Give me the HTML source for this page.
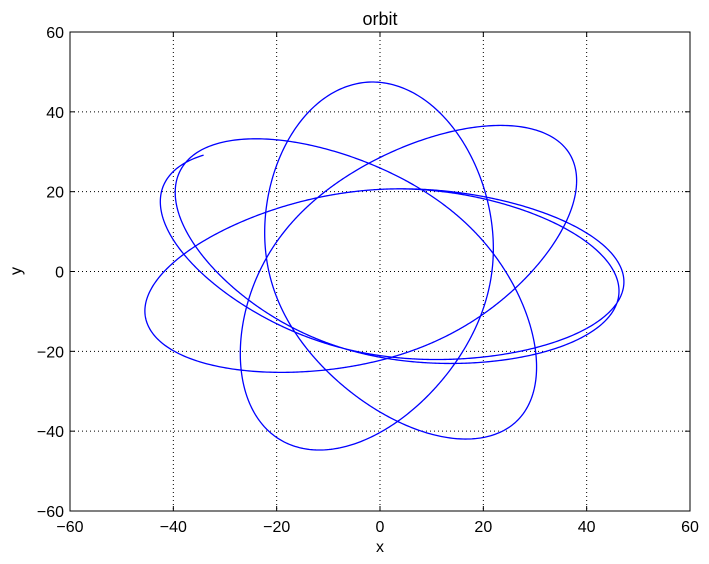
<!DOCTYPE html>
<html><head><meta charset="utf-8"><style>
html,body{margin:0;padding:0;background:#fff;}
svg{display:block;font-family:"Liberation Sans","DejaVu Sans",sans-serif;}
</style></head><body>
<svg id="chart" width="709" height="564" viewBox="0 0 709 564" xmlns="http://www.w3.org/2000/svg">
<rect width="709" height="564" fill="#fff"/>
<text x="380" y="25" text-anchor="middle" font-size="18">orbit</text>
<text x="380" y="552" text-anchor="middle" font-size="16">x</text>
<text x="21" y="271" text-anchor="middle" font-size="16" transform="rotate(-90 21 271)">y</text>
<g id="grid"></g>
<g id="series"></g>
<rect x="70" y="32" width="620" height="479" fill="none" stroke="#000" stroke-width="1"/>
<g id="ticks"></g>
</svg>
<script>
// data: apocenter directions (deg, unwrapped in travel order) and radii
const xTicks = [-60,-40,-20,0,20,40,60];
const yTicks = [-60,-40,-20,0,20,40,60];
const apoAngle = [150, 356, 556, 763, 970, 1172.3, 1380, 1583, 1792];
const apoRadius = [47.3, 47.3, 46.9, 47.5, 46.8, 47.5, 46.5, 46.5, 46.6];
const periRadius = [20.5, 20.5, 20.5, 21, 21.5, 21, 20.5, 20.5];
const startAngle = 139.5;
const endAngle = 1890;

const L=70,R=690,T=32,B=511;
const sx = v => L + (v+60)/120*(R-L);
const sy = v => B - (v+60)/120*(B-T);
const NS="http://www.w3.org/2000/svg";
const grid=document.getElementById('grid'), ticks=document.getElementById('ticks'), series=document.getElementById('series');
function mk(tag,attrs,parent){const e=document.createElementNS(NS,tag);for(const k in attrs)e.setAttribute(k,attrs[k]);parent.appendChild(e);return e;}

xTicks.forEach(v=>{
  const x=sx(v);
  if(v>-60&&v<60){
    const g=mk('line',{x1:x,y1:T,x2:x,y2:B,stroke:'#000','stroke-width':1,'stroke-dasharray':'1,3'},grid);
    
    
  }
  const t1=mk('line',{x1:x,y1:B,x2:x,y2:B-5,stroke:'#000'},ticks);
  
  
  const t2=mk('line',{x1:x,y1:T,x2:x,y2:T+5,stroke:'#000'},ticks);
  
  
  const lb=mk('text',{x:x,y:B+21,'text-anchor':'middle','font-size':16},ticks);
  lb.textContent=(v<0?'\u2212'+(-v):String(v));
  
  
});
yTicks.forEach(v=>{
  const y=sy(v);
  if(v>-60&&v<60){
    const g=mk('line',{x1:L,y1:y,x2:R,y2:y,stroke:'#000','stroke-width':1,'stroke-dasharray':'1,3'},grid);
    
    
  }
  const t1=mk('line',{x1:L,y1:y,x2:L+5,y2:y,stroke:'#000'},ticks);
  
  
  const t2=mk('line',{x1:R,y1:y,x2:R-5,y2:y,stroke:'#000'},ticks);
  
  
  const lb=mk('text',{x:L-6,y:y+6,'text-anchor':'end','font-size':16},ticks);
  lb.textContent=(v<0?'\u2212'+(-v):String(v));
  
  
});

function radiusAt(th){
  let i=0;
  while(i<apoAngle.length-1 && th>apoAngle[i+1]) i++;
  let a0,a1,r0,r1,rp;
  if(th<apoAngle[0]){
    const d=apoAngle[1]-apoAngle[0];
    a0=apoAngle[0]-d;a1=apoAngle[0];r0=apoRadius[0];r1=apoRadius[0];rp=periRadius[0];
  } else if(i>=apoAngle.length-1){
    const n=apoAngle.length-1, d=apoAngle[n]-apoAngle[n-1];
    a0=apoAngle[n];a1=apoAngle[n]+d;r0=apoRadius[n];r1=apoRadius[n];rp=periRadius[periRadius.length-1];
  } else {
    a0=apoAngle[i];a1=apoAngle[i+1];r0=apoRadius[i];r1=apoRadius[i+1];rp=periRadius[Math.min(i,periRadius.length-1)];
  }
  const u=(th-a0)/(a1-a0);
  const w=(1-Math.cos(2*Math.PI*u))/2;
  const ra=r0+(r1-r0)*u;
  return 1/Math.sqrt((1-w)/(ra*ra)+w/(rp*rp));
}
let d='';
for(let th=startAngle; th<=endAngle; th+=0.5){
  const r=radiusAt(th), a=th*Math.PI/180;
  const x=r*Math.cos(a), y=r*Math.sin(a);
  d+=(d?'L':'M')+sx(x).toFixed(2)+','+sy(y).toFixed(2);
}
const p=mk('path',{d:d,fill:'none',stroke:'#0000ff','stroke-width':1.3},series);


</script>
</body></html>
